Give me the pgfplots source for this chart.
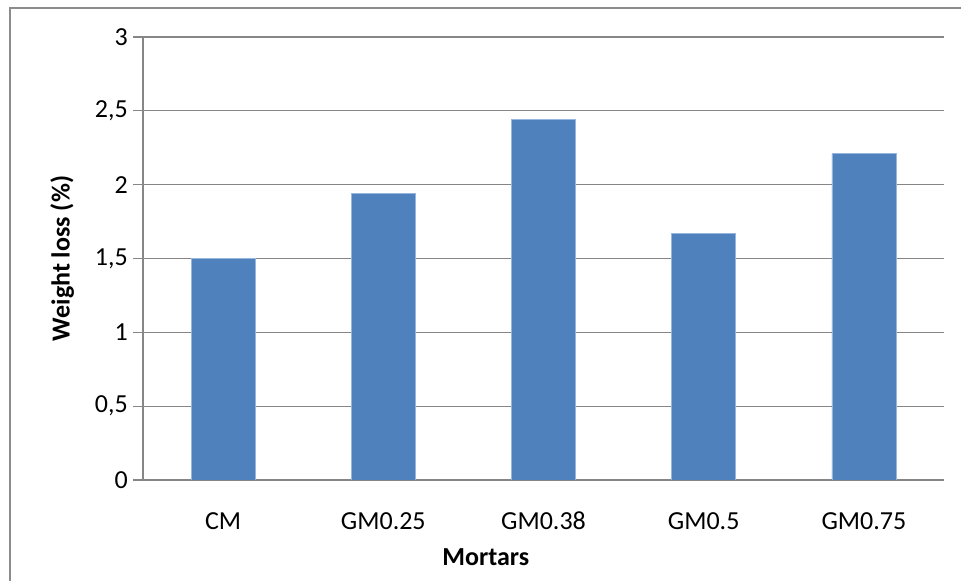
\documentclass[border=0pt]{standalone}
\usepackage{fontspec}
\setmainfont{Carlito}
\usepackage{pgfplots}
\pgfplotsset{compat=1.18}
\definecolor{barblue}{RGB}{79,129,189}
\definecolor{baredge}{RGB}{150,182,222}
\definecolor{gridgray}{RGB}{134,134,134}
\definecolor{framegray}{RGB}{140,140,140}
\begin{document}
\fontsize{19.5pt}{23pt}\selectfont
\begin{tikzpicture}[x=0.75pt,y=0.75pt]
\begin{axis}[
  at={(0,0)}, anchor=south west,
  scale only axis, width=600.75pt, height=332.25pt,
  xmin=-0.5, xmax=4.5, ymin=0, ymax=3,
  axis x line*=bottom, axis y line*=left,
  axis line style={gridgray, line width=0.9pt, -},
  ymajorgrids, grid style={gridgray, line width=0.9pt},
  ytick={0,0.5,...,3},
  tick align=outside, major tick length=7.5pt,
  tick style={gridgray, line width=0.9pt},
  xtick={0,1,2,3,4},
  xticklabels={CM,GM0.25,GM0.38,GM0.5,GM0.75},
  x tick style={draw=none},
  /pgf/number format/.cd, use comma, assume math mode=true, /pgfplots/.cd,
  yticklabel style={anchor=east, inner sep=0pt, xshift=-3.75pt},
  xticklabel style={anchor=base, inner sep=0pt, yshift=-29.5pt},
  xlabel={\textbf{Mortars}},
  xlabel style={at={(axis description cs:0.428,-0.192)}, anchor=base, inner sep=0pt},
  ylabel={\textbf{Weight loss (\%)}},
  ylabel style={at={(axis description cs:-0.101,0.5)}, anchor=center, inner sep=0pt},
]
\addplot[ybar, bar width=0.4, fill=barblue, draw=baredge, line width=0.5pt]
  coordinates {(0,1.5) (1,1.94) (2,2.44) (3,1.67) (4,2.21)};
\end{axis}
% chart frame
\draw[framegray, line width=1.5pt] (-133,-200) -- (-133,472) -- (900,472);
\pgfresetboundingbox
\useasboundingbox (-143,-101) rectangle (818,480);
\end{tikzpicture}
\end{document}
